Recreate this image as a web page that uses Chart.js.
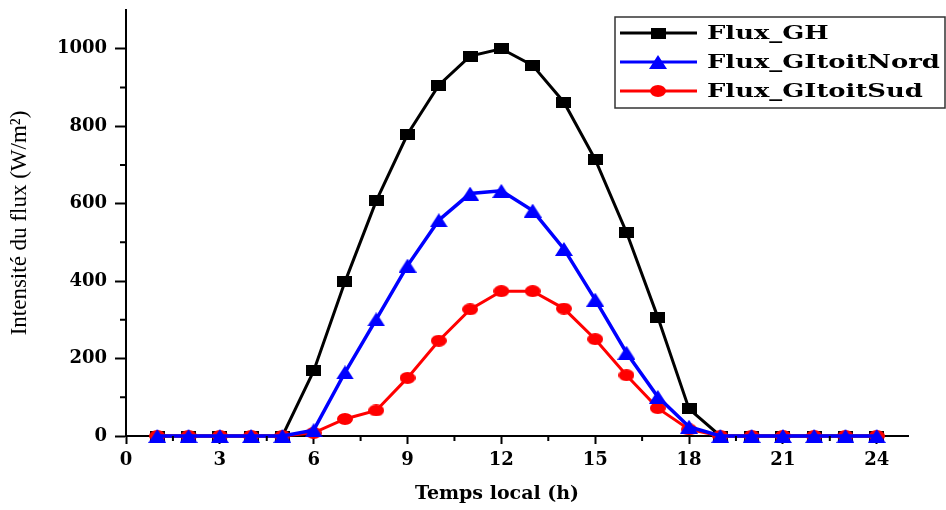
<!DOCTYPE html>
<html>
<head>
<meta charset="utf-8">
<script src="https://cdn.jsdelivr.net/npm/chart.js@4.4.1/dist/chart.umd.min.js"></script>
<style>
  html, body { margin: 0; padding: 0; background: #fff; }
  #wrap { width: 946px; height: 510px; }
</style>
</head>
<body>
<div id="wrap"><canvas id="fluxChart" width="946" height="510"></canvas></div>
<script>
// données
const hours = [1, 2, 3, 4, 5, 6, 7, 8, 9, 10, 11, 12, 13, 14, 15, 16, 17, 18, 19, 20, 21, 22, 23, 24];
const fluxGH   = [0, 0, 0, 0, 0, 168, 398, 607, 779, 906, 981, 1000, 957, 862, 714, 526, 307, 70, 0, 0, 0, 0, 0, 0];
const fluxNord = [0, 0, 0, 0, 0, 15, 164, 301, 440, 557, 626, 633, 582, 483, 352, 215, 101, 24, 0, 0, 0, 0, 0, 0];
const fluxSud  = [0, 0, 0, 0, 0, 8, 44, 66, 150, 246, 327, 374, 374, 329, 250, 157, 72, 17, 0, 0, 0, 0, 0, 0];

const seriesNames = ['Flux_GH', 'Flux_GItoitNord', 'Flux_GItoitSud'];

const xMajorTicks = [0, 3, 6, 9, 12, 15, 18, 21, 24];
const xMinorTicks = [1.5, 4.5, 7.5, 10.5, 13.5, 16.5, 19.5, 22.5];
const yMajorTicks = [0, 200, 400, 600, 800, 1000];
const yMinorTicks = [100, 300, 500, 700, 900];

const xTitle = 'Temps local (h)';
const yTitle = 'Intensité du flux (W/m²)';

const SERIF = "'DejaVu Serif', 'Liberation Serif', serif";

function toPoints(values) {
    return hours.map((h, i) => ({ x: h, y: values[i] }));
}

// marqueurs un peu écrasés (la figure d'origine est étirée en largeur)
function makeMarker(shape, color, w, h) {
    const c = document.createElement('canvas');
    c.width = w;
    c.height = h;
    const g = c.getContext('2d');
    g.fillStyle = color;
    g.beginPath();
    if (shape === 'rect') {
        g.rect(0, 0, w, h);
    } else if (shape === 'triangle') {
        g.moveTo(w / 2, 0);
        g.lineTo(w, h);
        g.lineTo(0, h);
        g.closePath();
    } else {
        g.ellipse(w / 2, h / 2, w / 2, h / 2, 0, 0, Math.PI * 2);
    }
    g.fill();
    return c;
}

const markerGH = makeMarker('rect', '#000000', 15, 11);
const markerNord = makeMarker('triangle', '#0000ff', 18, 14);
const markerSud = makeMarker('circle', '#ff0000', 16, 12);

// petits ticks (mineurs) + titre de l'axe x
const axisExtrasPlugin = {
    id: 'axisExtras',
    afterDraw(chart) {
        const { ctx, scales: { x, y } } = chart;
        ctx.save();
        ctx.strokeStyle = '#000';
        ctx.lineWidth = 2;
        ctx.beginPath();
        xMinorTicks.forEach(v => {
            const px = x.getPixelForValue(v);
            ctx.moveTo(px, x.top);
            ctx.lineTo(px, x.top + 5);
        });
        yMinorTicks.forEach(v => {
            const py = y.getPixelForValue(v);
            ctx.moveTo(y.right, py);
            ctx.lineTo(y.right - 6, py);
        });
        ctx.stroke();

        ctx.fillStyle = '#000';
        ctx.font = "bold 19px " + SERIF;
        ctx.textAlign = 'center';
        ctx.textBaseline = 'middle';
        ctx.fillText(xTitle, 497, 494);
        ctx.restore();
    }
};

// légende encadrée dans le coin haut droit
const boxLegendPlugin = {
    id: 'boxLegend',
    afterDraw(chart) {
        const { ctx } = chart;
        const left = 615, top = 17, right = 945, bottom = 108;
        ctx.save();
        ctx.fillStyle = '#fff';
        ctx.fillRect(left, top, right - left, bottom - top);
        ctx.strokeStyle = '#333';
        ctx.lineWidth = 1.5;
        ctx.strokeRect(left, top, right - left, bottom - top);

        const rows = [33, 62, 91];
        chart.data.datasets.forEach((ds, i) => {
            const yy = rows[i];
            ctx.strokeStyle = ds.borderColor;
            ctx.lineWidth = 3;
            ctx.beginPath();
            ctx.moveTo(620, yy);
            ctx.lineTo(697, yy);
            ctx.stroke();
            const m = ds.pointStyle;
            ctx.drawImage(m, 658 - m.width / 2, yy - m.height / 2);

            // texte élargi comme dans la figure d'origine
            ctx.save();
            ctx.translate(707, yy + 1);
            ctx.scale(1.36, 1);
            ctx.fillStyle = '#000';
            ctx.font = "bold 19px " + SERIF;
            ctx.textBaseline = 'middle';
            ctx.textAlign = 'left';
            ctx.fillText(ds.label, 0, 0);
            ctx.restore();
        });
        ctx.restore();
    }
};

const ctx = document.getElementById('fluxChart');

new Chart(ctx, {
    type: 'line',
    data: {
        datasets: [
            {
                label: seriesNames[0],
                data: toPoints(fluxGH),
                borderColor: '#000000',
                backgroundColor: '#000000',
                borderWidth: 3,
                pointStyle: markerGH,
                order: 3,
                clip: false
            },
            {
                label: seriesNames[1],
                data: toPoints(fluxNord),
                borderColor: '#0000ff',
                backgroundColor: '#0000ff',
                borderWidth: 3.5,
                pointStyle: markerNord,
                order: 1,
                clip: false
            },
            {
                label: seriesNames[2],
                data: toPoints(fluxSud),
                borderColor: '#ff0000',
                backgroundColor: '#ff0000',
                borderWidth: 3,
                pointStyle: markerSud,
                order: 2,
                clip: false
            }
        ]
    },
    options: {
        responsive: false,
        animation: false,
        layout: { padding: { top: 10, right: 38, left: 0, bottom: 0 } },
        plugins: {
            legend: { display: false },
            tooltip: { enabled: false }
        },
        scales: {
            x: {
                type: 'linear',
                min: 0,
                max: 25,
                afterBuildTicks: (scale) => {
                    scale.ticks = xMajorTicks.map(v => ({ value: v }));
                },
                afterFit: (scale) => { scale.height = 74; },
                ticks: {
                    color: '#000',
                    padding: 6,
                    font: { family: SERIF, size: 18, weight: 'bold' },
                    callback: (v) => String(v)
                },
                grid: {
                    display: true,
                    drawOnChartArea: false,
                    drawTicks: true,
                    tickLength: 8,
                    tickWidth: 2,
                    tickColor: '#000'
                },
                border: { display: true, color: '#000', width: 2 },
                title: { display: false }
            },
            y: {
                type: 'linear',
                min: 0,
                max: 1100,
                afterBuildTicks: (scale) => {
                    scale.ticks = yMajorTicks.map(v => ({ value: v }));
                },
                afterFit: (scale) => {
                    scale.width = 126;
                    scale.paddingTop = 0;
                    scale.paddingBottom = 0;
                },
                ticks: {
                    color: '#000',
                    padding: 8,
                    font: { family: SERIF, size: 18, weight: 'bold' },
                    callback: (v) => String(v)
                },
                grid: {
                    display: true,
                    drawOnChartArea: false,
                    drawTicks: true,
                    tickLength: 11,
                    tickWidth: 2,
                    tickColor: '#000'
                },
                border: { display: true, color: '#000', width: 2 },
                title: {
                    display: true,
                    text: yTitle,
                    color: '#000',
                    font: { family: "'Liberation Serif', serif", size: 23, weight: 'normal' },
                    padding: { top: 6, bottom: 0 }
                }
            }
        }
    },
    plugins: [axisExtrasPlugin, boxLegendPlugin]
});
</script>
</body>
</html>
